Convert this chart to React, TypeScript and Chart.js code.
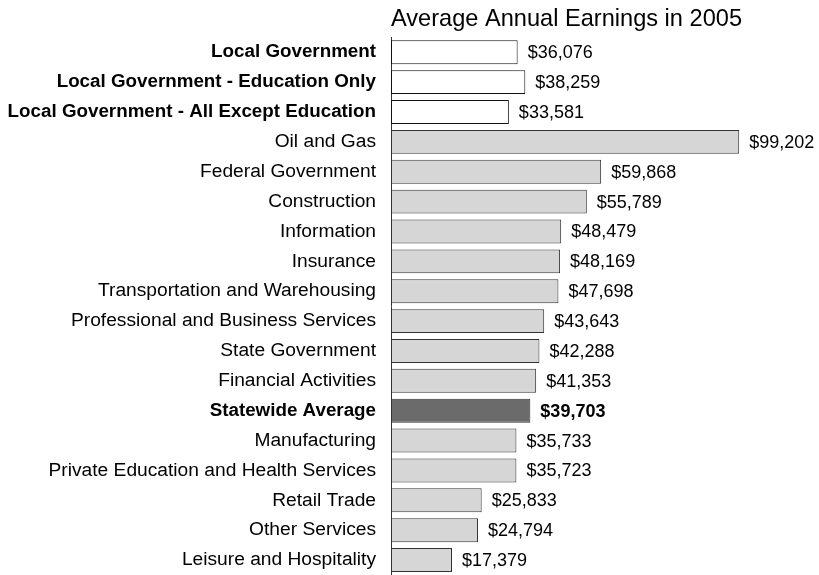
import React, { useEffect, useRef } from "react";
import { Chart, registerables } from "chart.js";

Chart.register(...registerables);

const categories = [
  "Local Government",
  "Local Government - Education Only",
  "Local Government - All Except Education",
  "Oil and Gas",
  "Federal Government",
  "Construction",
  "Information",
  "Insurance",
  "Transportation and Warehousing",
  "Professional and Business Services",
  "State Government",
  "Financial Activities",
  "Statewide Average",
  "Manufacturing",
  "Private Education and Health Services",
  "Retail Trade",
  "Other Services",
  "Leisure and Hospitality",
];

const earnings = [
  36076, 38259, 33581, 99202, 59868, 55789, 48479, 48169, 47698, 43643, 42288,
  41353, 39703, 35733, 35723, 25833, 24794, 17379,
];

// "local" = white, "avg" = dark, "other" = light gray
const groups = [
  "local", "local", "local", "other", "other", "other", "other", "other", "other",
  "other", "other", "other", "avg", "other", "other", "other", "other", "other",
];

const titleText = "Average Annual Earnings in 2005";
const FONT = "'Liberation Sans', Arial, Helvetica, sans-serif";

const fillFor = (g: string) => (g === "local" ? "#ffffff" : g === "avg" ? "#6b6b6b" : "#d6d6d6");
const borderFor = (g: string) => (g === "local" ? "#111111" : "#333333");
const isBold = (i: number) => groups[i] !== "other";

const valueLabels = {
  id: "valueLabels",
  afterDatasetsDraw(chart: any) {
    const ctx = chart.ctx;
    const meta = chart.getDatasetMeta(0);
    ctx.save();
    ctx.fillStyle = "#000";
    ctx.textAlign = "left";
    ctx.textBaseline = "middle";
    meta.data.forEach((bar: any, i: number) => {
      ctx.font = `${groups[i] === "avg" ? "bold " : ""}18px ${FONT}`;
      ctx.fillText("$" + earnings[i].toLocaleString("en-US"), bar.x + 10, bar.y + 1);
    });
    ctx.restore();
  },
};

export default function App() {
  const ref = useRef<HTMLCanvasElement>(null);
  useEffect(() => {
    if (!ref.current) return;
    const chart = new Chart(ref.current, {
      type: "bar",
      data: {
        labels: categories,
        datasets: [
          {
            data: earnings,
            backgroundColor: groups.map(fillFor),
            borderColor: groups.map(borderFor),
            borderWidth: 1,
            borderSkipped: false,
            barPercentage: 0.8,
            categoryPercentage: 1,
          },
        ],
      },
      options: {
        indexAxis: "y",
        animation: false,
        responsive: false,
        maintainAspectRatio: false,
        layout: { autoPadding: false, padding: { left: 0, right: 77, top: 0, bottom: 0 } },
        plugins: {
          legend: { display: false },
          tooltip: { enabled: false },
          title: {
            display: true,
            text: titleText,
            fullSize: false,
            color: "#000",
            font: { family: FONT, size: 24.4, weight: "normal" },
            padding: { top: 5, bottom: 3 },
          },
        },
        scales: {
          x: {
            display: false,
            min: 0,
            max: 100000,
          },
          y: {
            afterFit: (s: any) => {
              s.width = 391;
              s.paddingTop = 0;
              s.paddingBottom = 0;
            },
            grid: { display: false, drawTicks: false },
            border: { display: true, color: "#333", width: 1 },
            ticks: {
              color: "#000",
              padding: 15,
              autoSkip: false,
              font: (c: any) => ({
                family: FONT,
                size: isBold(c.index) ? 18.8 : 19.2,
                weight: isBold(c.index) ? "bold" : "normal",
              }),
            },
          },
        },
      },
      plugins: [valueLabels],
    });
    return () => chart.destroy();
  }, []);
  return (
    <div style={{ position: "absolute", left: 0, top: 0, width: 819, height: 575, background: "#fff" }}>
      <canvas ref={ref} width={819} height={575} style={{ width: 819, height: 575 }} />
    </div>
  );
}
